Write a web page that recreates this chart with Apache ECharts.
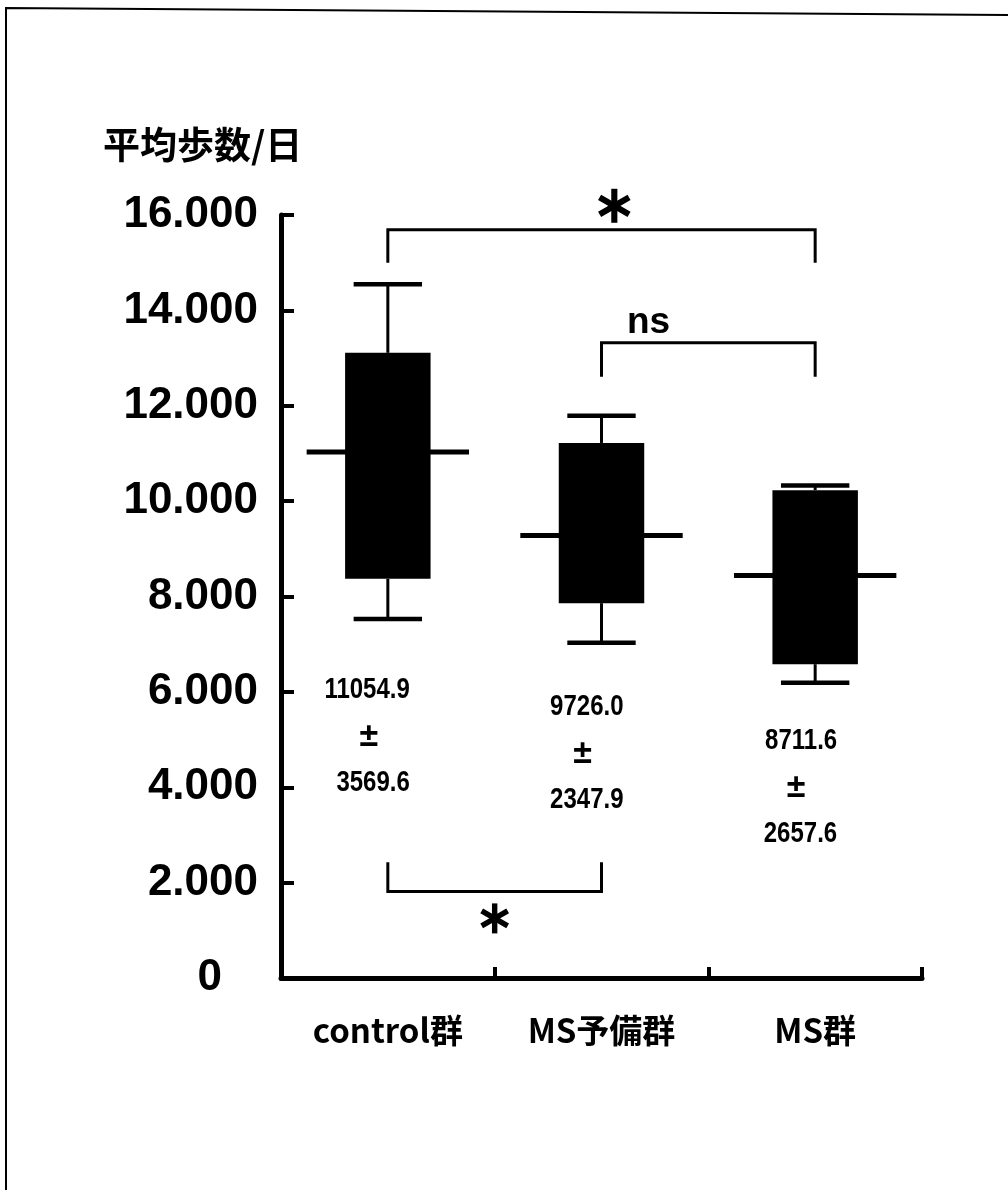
<!DOCTYPE html>
<html>
<head>
<meta charset="utf-8">
<script src="https://cdn.jsdelivr.net/npm/echarts@6/dist/echarts.min.js"></script>
<style>
  html, body { margin: 0; padding: 0; background: #fff; }
  #chart { width: 1008px; height: 1190px; }
</style>
</head>
<body>
<div id="chart"></div>
<script>
// Groups on the x axis
const categories = ['control群', 'MS予備群', 'MS群'];

// Box-and-whisker summary per group (steps per day)
const whiskerLow  = [7530, 7030, 6190];
const boxLow      = [8370, 7860, 6580];
const medianLine  = [11030, 9280, 8440];
const boxHigh     = [13110, 11220, 10230];
const whiskerHigh = [14550, 11790, 10330];

// Mean ± SD annotations printed under each box
const meanText = ['11054.9', '9726.0', '8711.6'];
const sdText   = ['3569.6', '2347.9', '2657.6'];

// Y axis ticks
const yTickValues = [0, 2000, 4000, 6000, 8000, 10000, 12000, 14000, 16000];
const yTickLabels = ['0', '2.000', '4.000', '6.000', '8.000', '10.000', '12.000', '14.000', '16.000'];

// Significance brackets: from group, to group, bar level, leg end, label
const bracketFrom  = [0, 1, 0];
const bracketTo    = [2, 2, 1];
const bracketLevel = [15690, 13320, 1816];
const bracketLeg   = [15000, 12610, 2425];
const bracketMark  = ['*', 'ns', '*'];

// Layout helpers (value of the first annotation line, label placement along bracket)
const statTop = [6040, 5680, 4970];
const markPos = [0.53, 0.22, 0.5];

const chart = echarts.init(document.getElementById('chart'));

const numFont = "'Liberation Sans', Arial, sans-serif";

function statText(text, x, y, align, size, sx) {
  return {
    type: 'text', x: x, y: y, scaleX: sx,
    style: { text: text, x: 0, y: 0, textAlign: align, textVerticalAlign: 'middle', fill: '#000', font: 'bold ' + size + 'px ' + numFont }
  };
}

function renderBox(params, api) {
  const i = api.value(0);
  const band = api.size([1, 0])[0];
  const cx = api.coord([i, 0])[0];
  const yWl = api.coord([i, api.value(1)])[1];
  const yBl = api.coord([i, api.value(2)])[1];
  const yMd = api.coord([i, api.value(3)])[1];
  const yBh = api.coord([i, api.value(4)])[1];
  const yWh = api.coord([i, api.value(5)])[1];
  const boxW = band * 0.40;
  const medW = band * 0.76;
  const capW = band * 0.32;
  const lineSt = { stroke: '#000', lineWidth: 3 };
  const children = [
    { type: 'line', shape: { x1: cx, y1: yBh, x2: cx, y2: yWh }, style: lineSt },
    { type: 'line', shape: { x1: cx, y1: yBl, x2: cx, y2: yWl }, style: lineSt },
    { type: 'line', shape: { x1: cx - capW / 2, y1: yWh, x2: cx + capW / 2, y2: yWh }, style: { stroke: '#000', lineWidth: 4.5 } },
    { type: 'line', shape: { x1: cx - capW / 2, y1: yWl, x2: cx + capW / 2, y2: yWl }, style: { stroke: '#000', lineWidth: 4.5 } },
    { type: 'rect', shape: { x: cx - boxW / 2, y: yBh, width: boxW, height: yBl - yBh }, style: { fill: '#000' } },
    { type: 'line', shape: { x1: cx - medW / 2, y1: yMd, x2: cx + medW / 2, y2: yMd }, style: { stroke: '#000', lineWidth: 5 } }
  ];
  const yT = api.coord([i, statTop[i]])[1];
  const gap = 46.5;
  children.push(statText(meanText[i], cx + 22, yT, 'right', 30, 0.8));
  children.push(statText('±', cx - 19, yT + gap, 'center', 34, 1));
  children.push(statText(sdText[i], cx + 22, yT + gap * 2, 'right', 30, 0.8));
  return { type: 'group', children: children };
}

// Bold six-armed asterisk centred on (x, y)
function asterisk(x, y, r) {
  const arms = [90, 30, 150].map(function (deg) {
    const a = deg * Math.PI / 180;
    const dx = Math.cos(a) * r, dy = Math.sin(a) * r;
    return { type: 'line', shape: { x1: x - dx, y1: y - dy, x2: x + dx, y2: y + dy }, style: { stroke: '#000', lineWidth: r * 0.36 } };
  });
  return { type: 'group', children: arms };
}

function renderBracket(params, api) {
  const a = api.value(0), b = api.value(1);
  const xa = api.coord([a, 0])[0];
  const xb = api.coord([b, 0])[0];
  const yl = api.coord([a, api.value(2)])[1];
  const yg = api.coord([a, api.value(3)])[1];
  const k = params.dataIndex;
  const mark = bracketMark[k];
  const above = yg > yl;
  const mx = xa + (xb - xa) * markPos[k];
  const children = [
    { type: 'polyline', shape: { points: [[xa, yg], [xa, yl], [xb, yl], [xb, yg]] }, style: { stroke: '#000', lineWidth: 3, fill: null } }
  ];
  if (mark === '*') {
    const r = above ? 17 : 15;
    children.push(asterisk(mx, above ? yl - 24 : yl + 27, r));
  } else {
    children.push({ type: 'text', style: {
      text: mark, x: mx, y: yl - 20, textAlign: 'center', textVerticalAlign: 'middle', fill: '#000',
      font: "bold 37px 'Liberation Sans', Arial, sans-serif"
    } });
  }
  return { type: 'group', children: children };
}

chart.setOption({
  animation: false,
  backgroundColor: '#fff',
  title: {
    text: '平均歩数/日',
    left: 98, top: 121,
    textStyle: { fontSize: 37, fontWeight: 'bold', color: '#000', fontFamily: "'Noto Sans CJK JP', sans-serif" }
  },
  grid: { left: 281, right: 86, top: 215, bottom: 212 },
  xAxis: {
    type: 'category',
    data: categories,
    boundaryGap: true,
    axisLine: { lineStyle: { color: '#000', width: 5 } },
    axisTick: { show: true, inside: true, length: 11, lineStyle: { color: '#000', width: 4 } },
    axisLabel: {
      color: '#000', fontSize: 33, fontWeight: 'bold', margin: 36,
      fontFamily: "'Noto Sans CJK JP', sans-serif"
    },
    splitLine: { show: false }
  },
  yAxis: {
    type: 'value',
    min: 0, max: 16000, interval: 2000,
    axisLine: { show: true, lineStyle: { color: '#000', width: 5 } },
    axisTick: { show: true, inside: true, length: 13, lineStyle: { color: '#000', width: 4 } },
    axisLabel: {
      color: '#000', fontSize: 44, fontWeight: 'bold', margin: 23,
      fontFamily: "'Liberation Sans', Arial, sans-serif",
      formatter: function (v) {
        const s = yTickLabels[yTickValues.indexOf(v)];
        return v === 0 ? '{z|' + s + '}' : s;
      },
      rich: { z: { fontSize: 44, fontWeight: 'bold', color: '#000', fontFamily: "'Liberation Sans', Arial, sans-serif", padding: [0, 36, 0, 0] } }
    },
    splitLine: { show: false }
  },
  graphic: [
    { type: 'polyline', shape: { points: [[1008, 15], [6, 8], [6, 1190]] }, style: { stroke: '#000', lineWidth: 2, fill: null }, silent: true }
  ],
  series: [
    {
      type: 'custom',
      renderItem: renderBox,
      data: categories.map(function (c, i) { return [i, whiskerLow[i], boxLow[i], medianLine[i], boxHigh[i], whiskerHigh[i]]; }),
      encode: { x: 0, y: [1, 2, 3, 4, 5] }
    },
    {
      type: 'custom',
      renderItem: renderBracket,
      data: bracketFrom.map(function (f, k) { return [f, bracketTo[k], bracketLevel[k], bracketLeg[k]]; }),
      encode: { x: [0, 1], y: [2, 3] }
    }
  ]
});
</script>
</body>
</html>
